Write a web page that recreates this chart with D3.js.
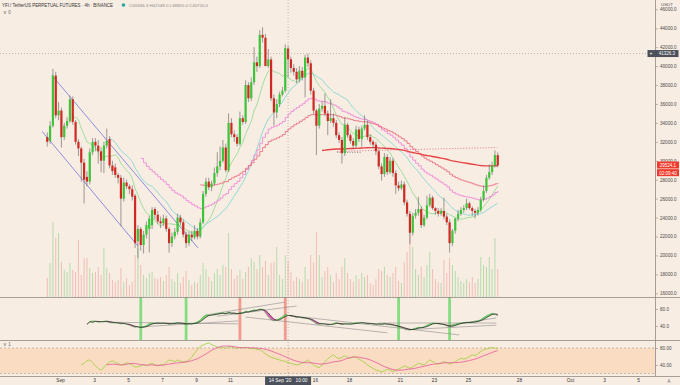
<!DOCTYPE html>
<html>
<head>
<meta charset="utf-8">
<script src="https://cdn.jsdelivr.net/npm/d3@7/dist/d3.min.js"></script>
<style>
  html, body { margin: 0; padding: 0; background: #f8ede3; }
  svg { display: block; font-family: "Liberation Sans", Arial, sans-serif; }
</style>
</head>
<body>
<svg id="chart" width="680" height="385"></svg>
<script>
// 4h candles from 31 Aug 06:00, prices in hundreds of USDT: [open, high, low, close]
const ohlc = [
  [325,330,315,320],[321,342,318,337],[337,397,335,390],[390,394,345,348],[348,362,343,353],
  [353,356,314,325],[325,340,322,337],[337,346,334,342],[342,369,340,365],[365,368,338,341],
  [341,343,317,320],[320,323,305,313],[313,315,278,298],[298,302,255,280],[283,289,273,278],
  [278,313,275,309],[309,324,306,320],[320,324,310,316],[316,322,297,310],[310,314,288,300],
  [300,320,287,316],[316,334,313,321],[323,326,292,295],[295,300,285,289],[293,297,282,285],
  [285,287,276,282],[282,285,231,260],[260,282,257,277],[277,280,270,273],[273,275,265,270],
  [270,274,258,262],[263,265,208,213],[215,232,197,228],[228,230,205,211],[211,226,202,222],
  [222,236,218,232],[228,242,203,239],[232,251,228,248],[249,251,238,243],[243,247,233,236],
  [236,241,229,234],[234,243,231,239],[239,242,225,228],[228,230,203,213],[213,224,209,220],
  [220,229,217,225],[225,244,222,240],[240,243,232,235],[235,238,219,222],[222,225,208,213],
  [213,225,210,222],[222,226,215,219],[219,232,217,226],[226,229,217,220],[220,239,218,235],
  [235,268,233,265],[265,282,262,278],[278,282,269,272],[272,279,268,276],[276,293,274,287],
  [287,309,283,294],[294,315,290,300],[300,322,298,314],[314,318,288,290],[290,350,288,340],
  [340,345,325,328],[328,332,320,325],[325,328,315,318],[318,352,316,345],[345,348,338,341],
  [341,385,339,380],[380,383,362,366],[366,388,363,383],[383,420,380,404],[404,410,394,400],
  [400,438,398,433],[433,441,425,430],[430,434,400,400],[400,418,398,407],[407,410,363,366],
  [366,370,337,351],[351,365,345,360],[360,373,357,370],[370,378,368,374],[374,423,372,419],
  [418.463,421.48,388.2,407.2],[407.2,410,393,398],[398,402,390,394],[394,398,382,386],[386,400,383,395],
  [395,399,385,388],[388,412,367,409],[409,413,399,403],[403,406,370,374],[374,377,349,353],
  [353,355,306,337],[337,360,334,355],[355,363,352,358],[358,371,347,350],[350,353,327,342],
  [342,365,340,345],[345,350,336,340],[340,343,324,327],[327,330,319,322],[322,325,297,308],
  [308,346,305,338],[338,340,324,327],[327,329,318,321],[321,324,313,316],[316,337,313,333],
  [333,336,320,323],[323,337,315,334],[334,348,332,338],[338,342,322,325],[325,328,317,320],
  [320,322,313,317],[317,320,306,310],[310,313,291,294],[294,297,279,286],[286,308,283,304],
  [304,307,285,288],[288,304,286,300],[300,303,283,287],[287,290,265,274],[274,278,268,271],
  [271,279,269,275],[275,278,253,256],[256,259,241,244],[244,247,212,224],[224,245,221,242],
  [242,249,239,245],[245,262,242,249],[249,252,229,232],[232,243,230,240],[240,263,238,253],
  [253,265,251,261],[261,263,248,250],[250,251,243,247],[247,250,241,244],[244,250,242,247],
  [247,261,238,241],[241,244,232,235],[235,238,203,213],[213,228,210,226],[226,240,223,239],
  [239,248,236,244],[244,251,242,248],[248,253,245,250],[250,260,248,255],[255,257,248,250],
  [250,252,242,247],[247,249,239,245],[245,251,242,248],[248,262,246,259],[259,274,257,268],
  [268,285,266,282],[282,296,280,288],[288,299,285,295],[295,311,293,306],[306,309,293,295.241]
]

const volumes = [
  19,34,75,59,64,35,27,25,34,27, 25,57,22,39,39,29,24,25,30,22,
  49,29,24,17,15,17,29,15,19,12, 15,42,49,32,22,19,24,25,19,18,
  20,16,22,30,18,15,24,14,20,26, 17,12,15,14,22,34,28,20,16,24,
  28,22,32,30,64,28,18,22,27,18, 25,30,39,35,28,42,30,36,22,34,
  35,50,22,18,42,36,25,16,20,18, 15,30,18,42,35,65,42,20,26,30,
  22,15,24,18,30,39,24,18,15,22, 18,24,20,22,14,12,18,28,26,30,
  22,20,24,30,16,14,35,45,72,50, 28,22,30,20,32,45,28,18,15,14,
  37,24,39,32,26,20,16,14,18,15, 20,14,18,40,32,30,40,28,59,28
]

// upper oscillator, first value on candle 14
const osc1Start = 14
const osc1 = [
  44,50,52,51,49,50,51,52,48,47, 48,47,45,46,44,42,39,37,38,36,
  38,41,46,47,46,47,46,47,46,44, 46,47,48,46,45,44,46,45,47,50,
  54,62,66,65,66,68,69,70,71,68, 73,70,69,68,72,71,75,73,76,78,
  77,80,79,71,62,55,52,54,58,62, 67,65,63,62,60,61,59,58,57,54,
  50,45,44,46,45,42,44,46,48,45, 43,46,45,44,46,48,47,48,47,45,
  46,45,44,45,44,46,44,43,42,40, 38,36,34,32,30,33,35,37,36,38,
  42,45,47,46,45,44,43,40,38,41, 44,46,47,48,49,48,49,51,52,55,
  60,64,67,70,68,64
]

// lower oscillator, first value on candle 12
const osc2Start = 12
const osc2 = [
  40,44,50,52,46,38,32,28,34,42, 47,50,46,44,40,42,45,43,40,35,
  36,38,41,38,42,44,40,38,41,40, 46,52,50,48,52,49,47,48,52,58,
  68,76,84,87,90,92,88,85,82,80, 81,79,83,82,80,79,81,80,82,80,
  78,79,77,76,72,66,62,58,56,54, 52,50,48,46,44,42,40,42,44,48,
  52,46,40,36,34,40,48,54,60,64, 58,55,58,62,58,56,60,58,54,50,
  46,40,36,32,28,26,24,26,30,28, 25,27,30,34,38,35,32,36,40,44,
  42,40,46,52,48,44,42,44,48,46, 42,44,48,52,56,54,56,60,64,62,
  66,72,76,78,80,81,80,79
]

const buyBars = [33, 49, 124, 142]
const sellBars = [68, 84]

// drawn lines on the price pane: [candle, price, candle, price]
const channelLines = [[1.7, 390, 53.2, 208], [-1.8, 331, 32, 210]]
const pinkDotted = [102.3, 310, 158.8, 314]
const blackDotted = [102.3, 309, 111, 309]
// drawn lines on the upper oscillator: [candle, value, candle, value]
const oscTrendLines = [
  [20.8, 49, 67.4, 45], [33.2, 38, 67.4, 52], [56, 66, 83.7, 96], [60, 63, 88, 87],
  [70, 61, 120, 24], [83.7, 66, 145.4, 19], [117, 47, 158.5, 47], [126, 31, 158.5, 42],
  [142, 42, 158.5, 59]
]

// moving averages: length, first bar drawn, kind
const maLengths = [10, 23, 34, 55, 200]
const maSeeds = [10, 23, 34, 55, 98]
const maKinds = ['sma', 'sma', 'ema', 'ema', 'ema']
const maColors = ['#8ad98a', '#78d6cf', '#ee80d6', '#ea6579', '#e64444']
const maWidths = [0.8, 0.8, 0.8, 0.8, 1.4]
const maStepped = [false, false, true, true, false]

const priceTicks = [160, 180, 200, 220, 240, 260, 280, 300, 320, 340, 360, 380, 400, 420, 440, 460]
const oscTicks = [40, 80]
const dayTicks = ['2020-09-01','2020-09-03','2020-09-05','2020-09-07','2020-09-09','2020-09-11',
  '2020-09-16','2020-09-18','2020-09-21','2020-09-23','2020-09-25','2020-09-28',
  '2020-10-01','2020-10-03','2020-10-05']
const dayLabels = ['Sep','3','5','7','9','11','16','18','21','23','25','28','Oct','3','5']

const crossIndex = 85
const crossPrice = 413.263
const crossTimeText = "14 Sep '20   10:00"
const countdown = '02:09:40'
const title = 'YFI / TetherUS PERPETUAL FUTURES · 4h · BINANCE'

// ---- layout
const axisX = 655.5
const mainBottom = 297
const pane1Bottom = 340
const timeAxisY = 376

const t0 = Date.UTC(2020, 7, 31, 6)
const step = 4 * 3600 * 1000
const time = i => new Date(t0 + i * step)

const x = d3.scaleUtc()
  .domain([new Date(Date.UTC(2020, 8, 1)), new Date(Date.UTC(2020, 9, 1))])
  .range([60, 570])
const cx = i => x(time(i))

const yPrice = d3.scaleLinear().domain([160, 460]).range([293.3, 9.3])
const yVol = d3.scaleLinear().domain([0, 100]).range([mainBottom, mainBottom - 100])
const yOsc1 = d3.scaleLinear().domain([40, 80]).range([326, 309])
const yOsc2 = d3.scaleLinear().domain([40, 80]).range([365, 348])

const svg = d3.select('#chart')

const defs = svg.append('defs')
defs.append('clipPath').attr('id', 'mainClip')
  .append('rect').attr('x', 0).attr('y', 0).attr('width', axisX).attr('height', mainBottom)
defs.append('clipPath').attr('id', 'p1Clip')
  .append('rect').attr('x', 0).attr('y', mainBottom).attr('width', axisX).attr('height', pane1Bottom - mainBottom)
defs.append('clipPath').attr('id', 'p2Clip')
  .append('rect').attr('x', 0).attr('y', pane1Bottom).attr('width', axisX).attr('height', timeAxisY - pane1Bottom)

svg.append('rect').attr('width', 680).attr('height', 385).attr('fill', '#f8ede3')

// ---- price pane
const main = svg.append('g').attr('clip-path', 'url(#mainClip)')

const up = d => d[3] >= d[0]

main.append('g').selectAll('rect')
  .data(volumes)
  .enter()
  .append('rect')
  .attr('x', (d, i) => cx(i) - 0.5)
  .attr('width', 1)
  .attr('y', d => yVol(d))
  .attr('height', d => yVol(0) - yVol(d))
  .attr('fill', (d, i) => up(ohlc[i]) ? '#b4dbab' : '#f1bcb3')

const segLine = (s, color, width, dash) => {
  main.append('line')
    .attr('x1', cx(s[0])).attr('y1', yPrice(s[1]))
    .attr('x2', cx(s[2])).attr('y2', yPrice(s[3]))
    .attr('stroke', color).attr('stroke-width', width)
    .attr('stroke-dasharray', dash || null)
}
channelLines.forEach(s => segLine(s, '#7474d6', 0.8))
segLine(pinkDotted, '#e06b92', 0.8, '1.2,1.6')
segLine(blackDotted, '#444', 0.7, '1,1.5')

const closes = ohlc.map(d => d[3])
function sma(vals, n) {
  return vals.map((v, i) => i < n - 1 ? null : d3.mean(vals.slice(i - n + 1, i + 1)))
}
function ema(vals, n, seed) {
  let out = [], prev = null, k = 2 / (n + 1)
  vals.forEach((v, i) => {
    if (i < seed - 1) { out.push(null); return }
    prev = prev == null ? d3.mean(vals.slice(0, seed)) : prev + k * (v - prev)
    out.push(prev)
  })
  return out
}

maLengths.forEach((n, k) => {
  let values = maKinds[k] === 'sma' ? sma(closes, n) : ema(closes, n, maSeeds[k])
  let line = d3.line()
    .defined(d => d != null)
    .x((d, i) => cx(i))
    .y(d => yPrice(d))
    .curve(maStepped[k] ? d3.curveStepAfter : d3.curveLinear)
  main.append('path')
    .datum(values)
    .attr('d', line)
    .attr('fill', 'none')
    .attr('stroke', maColors[k])
    .attr('stroke-width', maWidths[k])
})

const candles = main.append('g').selectAll('g')
  .data(ohlc)
  .enter()
  .append('g')

candles.append('line')
  .attr('x1', (d, i) => cx(i)).attr('x2', (d, i) => cx(i))
  .attr('y1', d => yPrice(d[1])).attr('y2', d => yPrice(d[2]))
  .attr('stroke', '#5e5e5e').attr('stroke-width', 0.6)

candles.append('rect')
  .attr('x', (d, i) => cx(i) - 1.1)
  .attr('width', 2.2)
  .attr('y', d => yPrice(Math.max(d[0], d[3])))
  .attr('height', d => Math.max(0.6, Math.abs(yPrice(d[0]) - yPrice(d[3]))))
  .attr('fill', d => up(d) ? '#3cc43a' : '#cf2a22')

// ---- upper oscillator pane
const p1 = svg.append('g').attr('clip-path', 'url(#p1Clip)')

p1.selectAll('rect.buy')
  .data(buyBars).enter().append('rect')
  .attr('x', d => cx(d) - 1.4).attr('width', 2.8)
  .attr('y', mainBottom).attr('height', pane1Bottom - mainBottom)
  .attr('fill', '#86dc80')
p1.selectAll('rect.sell')
  .data(sellBars).enter().append('rect')
  .attr('x', d => cx(d) - 1.4).attr('width', 2.8)
  .attr('y', mainBottom).attr('height', pane1Bottom - mainBottom)
  .attr('fill', '#f29a90')

oscTrendLines.forEach(s => {
  p1.append('line')
    .attr('x1', cx(s[0])).attr('y1', yOsc1(s[1]))
    .attr('x2', cx(s[2])).attr('y2', yOsc1(s[3]))
    .attr('stroke', '#8c8c8c').attr('stroke-width', 0.6)
})

const fast = osc1.map((v, k) => ({ i: k + osc1Start, v: v }))
const slowVals = sma(osc1, 3)
const slow = fast.map((d, k) => ({ i: d.i, v: slowVals[k] == null ? d.v : slowVals[k] }))
const pair = fast.map((d, k) => ({ i: d.i, a: d.v, b: slow[k].v }))

p1.append('path').datum(pair)
  .attr('d', d3.area().x(d => cx(d.i)).y0(d => yOsc1(d.b)).y1(d => yOsc1(Math.max(d.a, d.b))))
  .attr('fill', '#5fd35a').attr('opacity', 0.8)
p1.append('path').datum(pair)
  .attr('d', d3.area().x(d => cx(d.i)).y0(d => yOsc1(d.b)).y1(d => yOsc1(Math.min(d.a, d.b))))
  .attr('fill', '#e83cb4').attr('opacity', 0.8)
p1.append('path').datum(fast)
  .attr('d', d3.line().x(d => cx(d.i)).y(d => yOsc1(d.v)))
  .attr('fill', 'none').attr('stroke', '#3fae3f').attr('stroke-width', 0.6)
p1.append('path').datum(slow)
  .attr('d', d3.line().x(d => cx(d.i)).y(d => yOsc1(d.v)))
  .attr('fill', 'none').attr('stroke', '#1a1a1a').attr('stroke-width', 0.7)

// ---- lower oscillator pane
const p2 = svg.append('g').attr('clip-path', 'url(#p2Clip)')

p2.append('rect')
  .attr('x', 0).attr('width', axisX)
  .attr('y', yOsc2(80)).attr('height', yOsc2(20) - yOsc2(80))
  .attr('fill', '#f9d6b6').attr('opacity', 0.75)
;[80, 20].forEach(v => {
  p2.append('line')
    .attr('x1', 0).attr('x2', axisX)
    .attr('y1', yOsc2(v)).attr('y2', yOsc2(v))
    .attr('stroke', '#a8988c').attr('stroke-width', 0.6).attr('stroke-dasharray', '2,2')
})

const kLine = osc2.map((v, k) => ({ i: k + osc2Start, v: v }))
const dVals = sma(osc2, 10)
const dLine = kLine.map((d, k) => ({ i: d.i, v: dVals[k] })).filter(d => d.v != null)

p2.append('path').datum(kLine)
  .attr('d', d3.line().x(d => cx(d.i)).y(d => yOsc2(d.v)))
  .attr('fill', 'none').attr('stroke', '#9ccf3a').attr('stroke-width', 0.8)
p2.append('path').datum(dLine)
  .attr('d', d3.line().x(d => cx(d.i)).y(d => yOsc2(d.v)))
  .attr('fill', 'none').attr('stroke', '#e8579e').attr('stroke-width', 0.8)

// ---- separators and crosshair
const sep = '#8f8a86'
;[mainBottom, pane1Bottom, timeAxisY].forEach(yy => {
  svg.append('line').attr('x1', 0).attr('x2', 680)
    .attr('y1', yy + 0.5).attr('y2', yy + 0.5)
    .attr('stroke', sep).attr('stroke-width', 0.8)
})
svg.append('line').attr('x1', axisX).attr('x2', axisX)
  .attr('y1', 0).attr('y2', timeAxisY)
  .attr('stroke', sep).attr('stroke-width', 0.8)

svg.append('line')
  .attr('x1', cx(crossIndex)).attr('x2', cx(crossIndex))
  .attr('y1', 0).attr('y2', timeAxisY)
  .attr('stroke', '#9a8e86').attr('stroke-width', 0.6).attr('stroke-dasharray', '1,2')
svg.append('line')
  .attr('x1', 0).attr('x2', axisX)
  .attr('y1', yPrice(crossPrice)).attr('y2', yPrice(crossPrice))
  .attr('stroke', '#9a8e86').attr('stroke-width', 0.6).attr('stroke-dasharray', '1,2')

// ---- axes
const styleAxis = g => {
  g.select('.domain').remove()
  g.selectAll('line').attr('stroke', '#777').attr('stroke-width', 0.5)
  g.selectAll('text').attr('fill', '#4a4a4a').style('font-size', '4.6px')
}

svg.append('g')
  .attr('transform', 'translate(' + axisX + ',0)')
  .call(d3.axisRight(yPrice).tickValues(priceTicks).tickSize(2.5).tickPadding(2)
    .tickFormat(d => (d * 100).toFixed(1)))
  .call(styleAxis)

svg.append('g')
  .attr('transform', 'translate(' + axisX + ',0)')
  .call(d3.axisRight(yOsc1).tickValues(oscTicks).tickSize(2.5).tickPadding(2)
    .tickFormat(d => d.toFixed(1)))
  .call(styleAxis)

svg.append('g')
  .attr('transform', 'translate(' + axisX + ',0)')
  .call(d3.axisRight(yOsc2).tickValues(oscTicks).tickSize(2.5).tickPadding(2)
    .tickFormat(d => d.toFixed(2)))
  .call(styleAxis)

svg.append('g')
  .attr('transform', 'translate(0,' + timeAxisY + ')')
  .call(d3.axisBottom(x).tickValues(dayTicks.map(d => new Date(d + 'T00:00:00Z')))
    .tickSize(0).tickPadding(2.5)
    .tickFormat((d, i) => dayLabels[i]))
  .call(styleAxis)
  .call(g => g.selectAll('text').style('font-size', '4.8px').attr('fill', '#333'))

svg.append('text').attr('x', 667).attr('y', 6).attr('text-anchor', 'middle')
  .style('font-size', '4.4px').attr('fill', '#555').text('USDT')
svg.append('text').attr('x', 669).attr('y', 383).attr('text-anchor', 'middle')
  .style('font-size', '5px').attr('fill', '#777').text('A')

// last price box
const last = ohlc[ohlc.length - 1]
const ly = yPrice(last[3])
svg.append('rect').attr('x', axisX + 1.5).attr('y', ly - 3.8).attr('width', 22).attr('height', 7)
  .attr('fill', '#f03a2c')
svg.append('rect').attr('x', axisX + 1.5).attr('y', ly + 3.9).attr('width', 22).attr('height', 7)
  .attr('fill', '#f03a2c')
svg.append('text').attr('x', axisX + 12.5).attr('y', ly + 1.6).attr('text-anchor', 'middle')
  .style('font-size', '4.5px').attr('fill', '#fff').text((last[3] * 100).toFixed(1))
svg.append('text').attr('x', axisX + 12.5).attr('y', ly + 9.3).attr('text-anchor', 'middle')
  .style('font-size', '4.5px').attr('fill', '#fff').text(countdown)

// crosshair price box
const cy = yPrice(crossPrice)
svg.append('rect').attr('x', 647.5).attr('y', cy - 3.5).attr('width', 31).attr('height', 7)
  .attr('fill', '#4b505b')
svg.append('text').attr('x', 651).attr('y', cy + 1.7).attr('text-anchor', 'middle')
  .style('font-size', '5px').attr('fill', '#fff').text('+')
svg.append('text').attr('x', 667).attr('y', cy + 1.6).attr('text-anchor', 'middle')
  .style('font-size', '4.5px').attr('fill', '#fff').text((crossPrice * 100).toFixed(1))

// crosshair time box
const cxx = cx(crossIndex)
svg.append('rect').attr('x', cxx - 23).attr('y', timeAxisY + 0.5).attr('width', 46).attr('height', 8.5)
  .attr('fill', '#4b505b')
svg.append('text').attr('x', cxx).attr('y', timeAxisY + 6.3).attr('text-anchor', 'middle')
  .attr('xml:space', 'preserve').style('white-space', 'pre')
  .style('font-size', '4.8px').attr('fill', '#fff').text(crossTimeText)

// ---- legend
const c = ohlc[crossIndex]
const fmt = v => (v * 100).toFixed(1)
svg.append('text').attr('x', 2).attr('y', 6.8)
  .attr('textLength', 111).attr('lengthAdjust', 'spacingAndGlyphs')
  .style('font-size', '5px').attr('fill', '#333').text(title)
svg.append('circle').attr('cx', 123.5).attr('cy', 5).attr('r', 1.8).attr('fill', '#26a69a')
svg.append('text').attr('x', 129).attr('y', 6.6)
  .attr('textLength', 79).attr('lengthAdjust', 'spacingAndGlyphs')
  .style('font-size', '4.4px').attr('fill', '#888')
  .text('O' + fmt(c[0]) + ' H' + fmt(c[1]) + ' L' + fmt(c[2]) + ' C' + fmt(c[3]))
svg.append('text').attr('x', 3).attr('y', 14).style('font-size', '4.6px').attr('fill', '#666').text('∨ 0')
svg.append('text').attr('x', 3).attr('y', pane1Bottom + 6).style('font-size', '4.6px').attr('fill', '#666').text('∨ 1')
</script>
</body>
</html>
